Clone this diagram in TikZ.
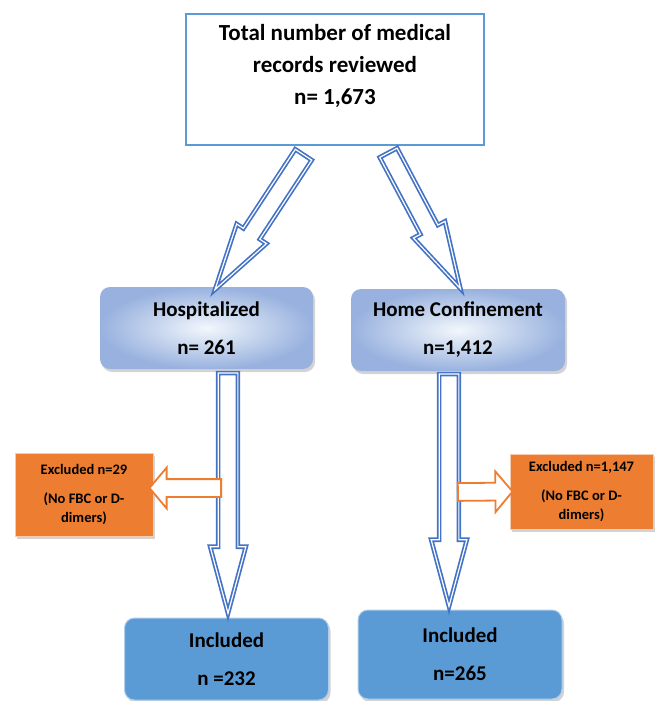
\documentclass[tikz,border=0pt]{standalone}
\usepackage{fontspec}
\setmainfont{Carlito}
\usetikzlibrary{calc,shapes.arrows,shadows}
\definecolor{arrowblue}{HTML}{4472C4}
\definecolor{boxblue}{HTML}{5B9BD5}
\definecolor{exorange}{HTML}{ED7D31}
\begin{document}
\begin{tikzpicture}
[x=1pt,y=1pt,
 topbox/.style={rectangle,draw=boxblue,line width=2pt,fill=white,minimum width=298pt,minimum height=131pt},
 bigtxt/.style={align=center,font=\bfseries\fontsize{23}{32}\selectfont},
 grpbox/.style={rectangle,rounded corners=10pt,inner color=white!92!boxblue,outer color=arrowblue!55,
   drop shadow={shadow xshift=2pt,shadow yshift=-3pt,opacity=.35},minimum width=213pt,minimum height=82pt,
   align=center,font=\bfseries\fontsize{21}{38}\selectfont},
 incbox/.style={rectangle,rounded corners=10pt,fill=boxblue,draw=boxblue!50,line width=1pt,
   drop shadow={shadow xshift=2pt,shadow yshift=-3pt,opacity=.35},minimum width=204pt,
   align=center,font=\bfseries\fontsize{21}{38}\selectfont},
 exbox/.style={rectangle,fill=exorange,draw=exorange!40,line width=.8pt,
   drop shadow={shadow xshift=2pt,shadow yshift=-3pt,opacity=.35},
   align=center,font=\bfseries\fontsize{14.5}{29}\selectfont},
 bluearrow/.style={single arrow,inner xsep=0pt,inner ysep=9pt,single arrow head extend=8pt,
   single arrow tip angle=30,fill=white,draw=arrowblue,line width=1.7pt,double=white,double distance=1.2pt},
 orangearrow/.style={single arrow,inner xsep=0pt,inner ysep=8pt,single arrow head extend=11.5pt,
   single arrow tip angle=100,fill=white,draw=exorange,line width=1.8pt}]
\useasboundingbox (0,0) rectangle (660,-701);
% boxes
\node[topbox] (top) at (335,-79.5) {};
\node[bigtxt] (toptxt) at (335,-66) {Total number of medical\\records reviewed\\n= 1,673};
\node[grpbox] (hosp) at (206.5,-328) {Hospitalized\\n= 261};
\node[grpbox,minimum width=214pt] (home) at (458,-330) {Home Confinement\\n=1,412};
\node[exbox,minimum width=138pt,minimum height=83pt] (exl) at (84,-494.5) {Excluded n=29\\(No FBC or D-\\[-10pt]dimers)};
\node[exbox,minimum width=143pt,minimum height=75pt] (exr) at (581.5,-491.5) {Excluded n=1,147\\(No FBC or D-\\[-10pt]dimers)};
\node[incbox,minimum height=82pt] (incl) at (226.5,-659) {Included\\n =232};
\node[incbox,minimum height=89pt] (incr) at (460,-654.5) {Included\\n=265};
% arrow ends
\coordinate (a1) at ($(top.south)+(-31,-8)$);\coordinate (b1) at ($(hosp.north)+(9,-2)$);
\coordinate (a2) at ($(top.south)+(53,-6)$);\coordinate (b2) at ($(home.north)+(2,1)$);
\coordinate (a3) at ($(hosp.south)+(21.5,-3)$);\coordinate (b3) at ($(incl.north)+(1.5,5)$);
\coordinate (a4) at ($(home.south)+(-9,-2)$);\coordinate (b4) at ($(incr.north)+(-11,4)$);
\coordinate (a5) at (222,-488);\coordinate (b5) at ($(exl.east)+(-3,6.5)$);
\coordinate (a6) at (457,-492);\coordinate (b6) at ($(exr.west)+(2,0)$);
\foreach \s/\t in {a1/b1,a2/b2,a3/b3,a4/b4}
  \path let \p1=($(\t)-(\s)$),\n1={veclen(\x1,\y1)} in
    (\s) -- node[pos=0,anchor=tail,sloped,allow upside down,bluearrow,minimum height=\n1] (arr\s) {} (\t);
\foreach \s/\t in {a5/b5,a6/b6}
  \path let \p1=($(\t)-(\s)$),\n1={veclen(\x1,\y1)} in
    (\s) -- node[pos=0,anchor=tail,sloped,allow upside down,orangearrow,minimum height=\n1] (arr\s) {} (\t);
\end{tikzpicture}
\end{document}
